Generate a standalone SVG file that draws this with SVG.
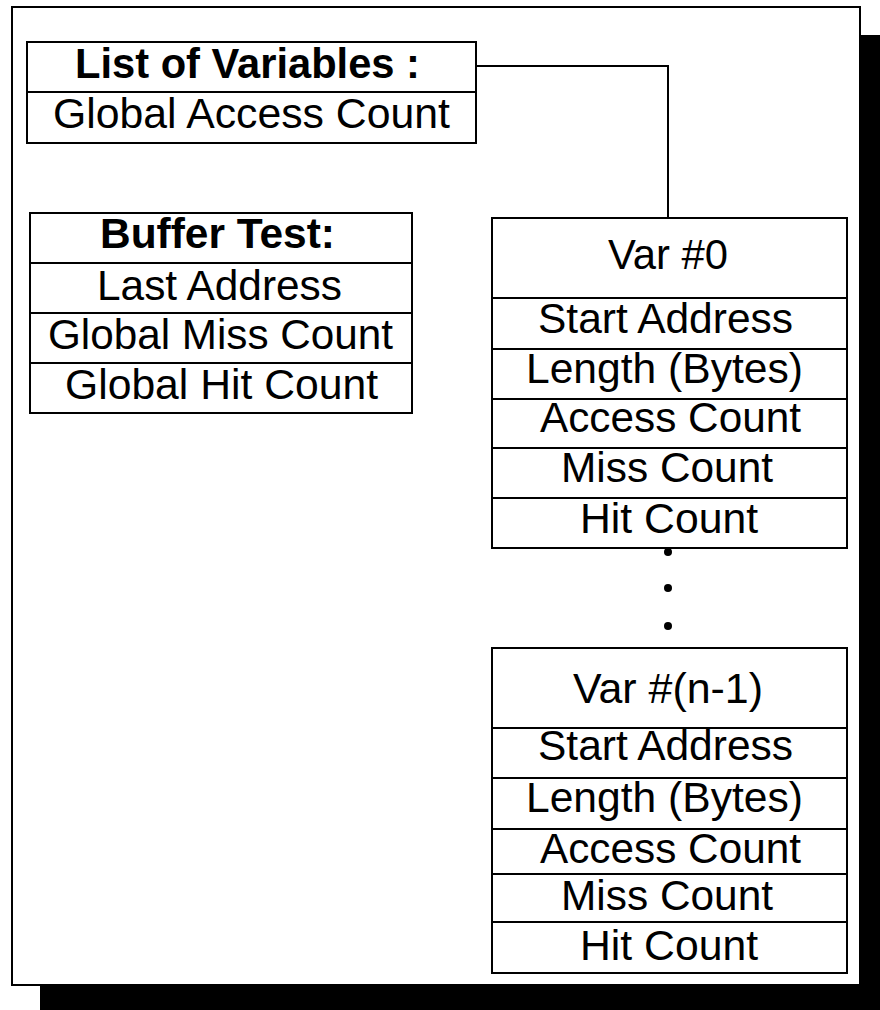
<svg xmlns="http://www.w3.org/2000/svg" width="880" height="1010" viewBox="0 0 880 1010">
  <style>
    .box { fill: #ffffff; stroke: #000000; stroke-width: 2; }
    .div { stroke: #000000; stroke-width: 2; }
    .wire { fill: none; stroke: #000000; stroke-width: 2; }
    text { font-family: "Liberation Sans", Arial, sans-serif; font-size: 43px; fill: #000000; text-anchor: middle; }
    .title { font-weight: bold; }
  </style>

  <!-- page with drop shadow -->
  <rect x="40" y="35" width="860" height="990" fill="#000000"/>
  <rect x="12" y="7" width="848" height="978" fill="#ffffff" stroke="#000000" stroke-width="2"/>

  <!-- connectors -->
  <g id="connectors">
    <polyline class="wire" points="476,66 668,66 668,218"/>
    <g id="ellipsis" fill="#000000">
      <circle cx="668" cy="552" r="4"/>
      <circle cx="668" cy="588" r="4"/>
      <circle cx="668" cy="626" r="4"/>
    </g>
  </g>

  <!-- list of variables -->
  <g id="list-of-variables">
    <rect class="box" x="27" y="42" width="449" height="101"/>
    <line class="div" x1="27" y1="92" x2="476" y2="92"/>
    <text class="title" x="247.5" y="78" textLength="345" lengthAdjust="spacingAndGlyphs">List of Variables :</text>
    <text x="251.5" y="128" textLength="397" lengthAdjust="spacingAndGlyphs">Global Access Count</text>
  </g>

  <!-- buffer test -->
  <g id="buffer-test">
    <rect class="box" x="30" y="213" width="382" height="200"/>
    <line class="div" x1="30" y1="263" x2="412" y2="263"/>
    <line class="div" x1="30" y1="313" x2="412" y2="313"/>
    <line class="div" x1="30" y1="363" x2="412" y2="363"/>
    <text class="title" x="217.5" y="248" textLength="235" lengthAdjust="spacingAndGlyphs">Buffer Test:</text>
    <text x="219.5" y="300" textLength="245" lengthAdjust="spacingAndGlyphs">Last Address</text>
    <text x="220.5" y="349" textLength="345" lengthAdjust="spacingAndGlyphs">Global Miss Count</text>
    <text x="221.5" y="399" textLength="313" lengthAdjust="spacingAndGlyphs">Global Hit Count</text>
  </g>

  <!-- first variable record -->
  <g id="var-0">
    <rect class="box" x="492" y="218" width="355" height="330"/>
    <line class="div" x1="492" y1="298" x2="847" y2="298"/>
    <line class="div" x1="492" y1="349" x2="847" y2="349"/>
    <line class="div" x1="492" y1="399" x2="847" y2="399"/>
    <line class="div" x1="492" y1="448" x2="847" y2="448"/>
    <line class="div" x1="492" y1="498" x2="847" y2="498"/>
    <text x="668" y="269" textLength="120" lengthAdjust="spacingAndGlyphs">Var #0</text>
    <text x="665.5" y="333" textLength="255" lengthAdjust="spacingAndGlyphs">Start Address</text>
    <text x="664.5" y="383" textLength="277" lengthAdjust="spacingAndGlyphs">Length (Bytes)</text>
    <text x="670.5" y="432" textLength="261" lengthAdjust="spacingAndGlyphs">Access Count</text>
    <text x="667" y="482" textLength="212" lengthAdjust="spacingAndGlyphs">Miss Count</text>
    <text x="669" y="533" textLength="178" lengthAdjust="spacingAndGlyphs">Hit Count</text>
  </g>

  <!-- last variable record -->
  <g id="var-n-1">
    <rect class="box" x="492" y="648" width="355" height="325"/>
    <line class="div" x1="492" y1="728" x2="847" y2="728"/>
    <line class="div" x1="492" y1="778" x2="847" y2="778"/>
    <line class="div" x1="492" y1="829" x2="847" y2="829"/>
    <line class="div" x1="492" y1="874" x2="847" y2="874"/>
    <line class="div" x1="492" y1="922" x2="847" y2="922"/>
    <text x="668" y="703" textLength="190" lengthAdjust="spacingAndGlyphs">Var #(n-1)</text>
    <text x="665.5" y="760" textLength="255" lengthAdjust="spacingAndGlyphs">Start Address</text>
    <text x="664.5" y="812" textLength="277" lengthAdjust="spacingAndGlyphs">Length (Bytes)</text>
    <text x="670.5" y="863" textLength="261" lengthAdjust="spacingAndGlyphs">Access Count</text>
    <text x="667" y="910" textLength="212" lengthAdjust="spacingAndGlyphs">Miss Count</text>
    <text x="669" y="960" textLength="178" lengthAdjust="spacingAndGlyphs">Hit Count</text>
  </g>
</svg>
